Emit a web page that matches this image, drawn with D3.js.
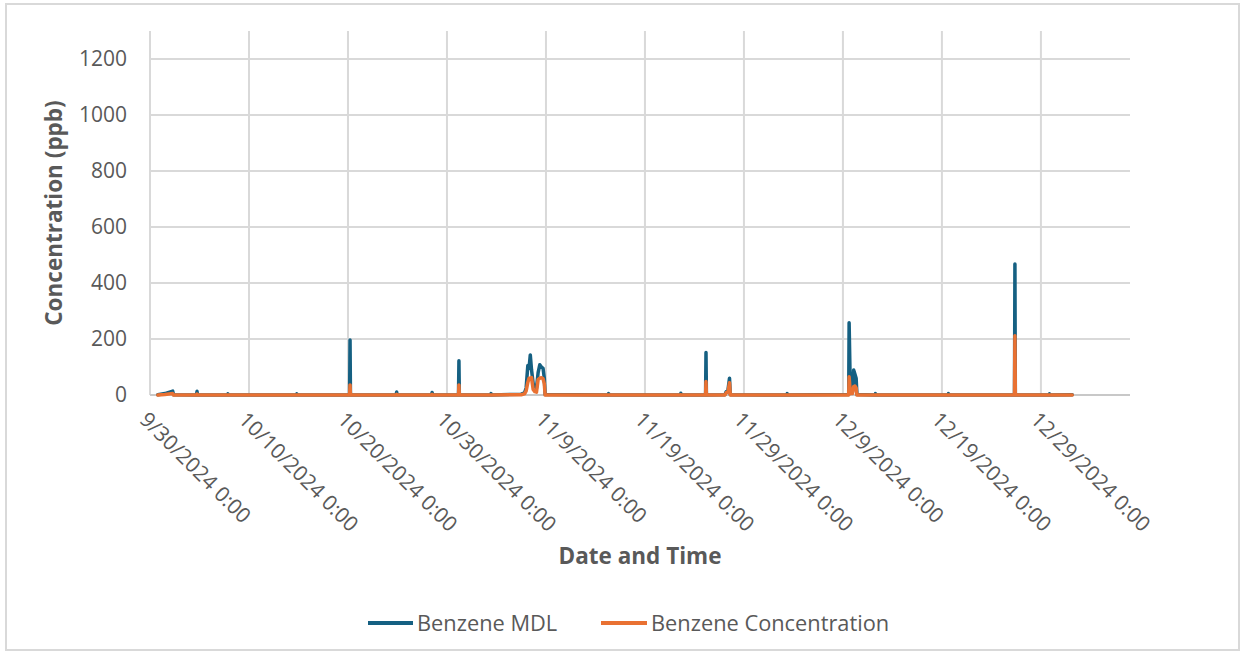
<!DOCTYPE html>
<html>
<head>
<meta charset="utf-8">
<script src="https://cdn.jsdelivr.net/npm/d3@7"></script>
<style>
  html, body { margin: 0; padding: 0; background: #ffffff; }
  svg { display: block; }
  text { font-family: "Open Sans", "Noto Sans", sans-serif; fill: #595959; }
</style>
</head>
<body>
<svg id="chart" width="1245" height="655"></svg>
<script>
// Benzene monitoring, hourly readings (ppb)
const times = [
  "2024-09-30 19:00", "2024-10-01 12:00", "2024-10-02 07:00", "2024-10-02 09:00",
  "2024-10-04 17:00", "2024-10-04 18:00", "2024-10-04 19:00",
  "2024-10-07 20:00", "2024-10-07 21:00", "2024-10-07 22:00",
  "2024-10-14 19:00", "2024-10-14 20:00", "2024-10-14 21:00",
  "2024-10-20 04:00", "2024-10-20 05:00", "2024-10-20 06:00",
  "2024-10-24 21:00", "2024-10-24 22:00", "2024-10-24 23:00",
  "2024-10-28 11:00", "2024-10-28 12:00", "2024-10-28 13:00",
  "2024-10-31 04:00", "2024-10-31 05:00", "2024-10-31 06:00",
  "2024-11-03 10:00", "2024-11-03 11:00", "2024-11-03 12:00",
  "2024-11-06 12:00", "2024-11-06 20:00", "2024-11-07 00:00", "2024-11-07 04:00",
  "2024-11-07 07:00", "2024-11-07 10:00", "2024-11-07 13:00", "2024-11-07 17:00",
  "2024-11-07 21:00", "2024-11-08 01:00", "2024-11-08 05:00", "2024-11-08 09:00",
  "2024-11-08 13:00", "2024-11-08 17:00", "2024-11-08 20:00", "2024-11-08 22:00",
  "2024-11-15 07:00", "2024-11-15 08:00", "2024-11-15 09:00",
  "2024-11-22 14:00", "2024-11-22 15:00", "2024-11-22 16:00",
  "2024-11-25 03:00", "2024-11-25 04:00", "2024-11-25 05:00",
  "2024-11-27 02:00", "2024-11-27 05:00", "2024-11-27 09:00", "2024-11-27 13:00", "2024-11-27 15:00",
  "2024-12-03 08:00", "2024-12-03 09:00", "2024-12-03 10:00",
  "2024-12-09 14:00", "2024-12-09 15:00", "2024-12-09 18:00", "2024-12-09 23:00",
  "2024-12-10 02:00", "2024-12-10 05:00", "2024-12-10 08:00", "2024-12-10 10:00",
  "2024-12-12 06:00", "2024-12-12 07:00", "2024-12-12 08:00",
  "2024-12-19 15:00", "2024-12-19 16:00", "2024-12-19 17:00",
  "2024-12-26 08:00", "2024-12-26 09:00", "2024-12-26 10:00",
  "2024-12-29 20:00", "2024-12-29 21:00", "2024-12-29 22:00",
  "2025-01-01 04:00"
];
const mdlValues = [
  1, 5, 14, 1,
  0, 13, 0,
  0, 4, 0,
  0, 4, 0,
  0, 196, 0,
  0, 11, 0,
  0, 9, 0,
  0, 122, 0,
  0, 5, 0,
  3, 8, 25, 105,
  95, 143, 90, 40,
  30, 25, 80, 108,
  100, 95, 60, 2,
  0, 5, 0,
  0, 6, 0,
  0, 152, 0,
  1, 12, 14, 60, 1,
  0, 5, 0,
  2, 258, 10, 10,
  89, 75, 60, 2,
  0, 5, 0,
  0, 5, 0,
  0, 468, 0,
  0, 4, 0,
  1
];
const concValues = [
  0, 2, 5, 0,
  0, 3, 0,
  0, 0, 0,
  0, 0, 0,
  0, 36, 0,
  0, 2, 0,
  0, 2, 0,
  0, 36, 0,
  0, 0, 0,
  1, 4, 15, 45,
  60, 60, 62, 20,
  12, 10, 55, 60,
  62, 58, 40, 0,
  0, 0, 0,
  0, 1, 0,
  0, 48, 0,
  0, 8, 10, 44, 0,
  0, 0, 0,
  0, 65, 5, 5,
  30, 32, 25, 0,
  0, 0, 0,
  0, 0, 0,
  0, 212, 0,
  0, 0, 0,
  0
];

const xTickDates = ["2024-09-30", "2024-10-10", "2024-10-20", "2024-10-30", "2024-11-09",
                    "2024-11-19", "2024-11-29", "2024-12-09", "2024-12-19", "2024-12-29"];
const xTickLabels = ["9/30/2024 0:00", "10/10/2024 0:00", "10/20/2024 0:00", "10/30/2024 0:00",
                     "11/9/2024 0:00", "11/19/2024 0:00", "11/29/2024 0:00", "12/9/2024 0:00",
                     "12/19/2024 0:00", "12/29/2024 0:00"];
const yTicks = [0, 200, 400, 600, 800, 1000, 1200];
const seriesNames = ["Benzene MDL", "Benzene Concentration"];
const seriesColors = ["#156082", "#E97132"];

const parseTime = d3.timeParse("%Y-%m-%d %H:%M");
const parseDay = d3.timeParse("%Y-%m-%d");

const svg = d3.select("#chart");

// outer frame
svg.append("rect")
  .attr("x", 6).attr("y", 4).attr("width", 1233).attr("height", 646)
  .attr("fill", "none").attr("stroke", "#d9d9d9").attr("stroke-width", 2);

const plot = { left: 150, right: 1130, top: 31, bottom: 395 };

const x = d3.scaleTime()
  .domain([parseDay("2024-09-30"), parseDay("2025-01-07")])
  .range([plot.left, plot.right]);
const y = d3.scaleLinear()
  .domain([0, 1300])
  .range([plot.bottom, plot.top]);

const tickDates = xTickDates.map(parseDay);

// gridlines
const grid = svg.append("g").attr("stroke", "#d9d9d9").attr("stroke-width", 2);
grid.selectAll("line.h").data(yTicks.filter(v => v > 0)).join("line")
  .attr("class", "h")
  .attr("x1", plot.left).attr("x2", plot.right)
  .attr("y1", d => y(d)).attr("y2", d => y(d));
grid.selectAll("line.v").data(tickDates).join("line")
  .attr("class", "v")
  .attr("x1", d => x(d)).attr("x2", d => x(d))
  .attr("y1", plot.top).attr("y2", plot.bottom);

// x axis line
svg.append("line")
  .attr("x1", plot.left).attr("x2", plot.right)
  .attr("y1", plot.bottom).attr("y2", plot.bottom)
  .attr("stroke", "#c8c8c8").attr("stroke-width", 2);

// y axis labels
const yAxis = svg.append("g")
  .attr("transform", `translate(${plot.left},0)`)
  .call(d3.axisLeft(y).tickValues(yTicks).tickSize(0).tickPadding(23).tickFormat(d3.format("d")));
yAxis.select(".domain").remove();
yAxis.selectAll("text")
  .style("font-family", '"Open Sans", sans-serif')
  .style("font-size", "21px")
  .attr("fill", "#595959");

// x axis labels, rotated
const xAxis = svg.append("g")
  .attr("transform", `translate(0,${plot.bottom})`)
  .call(d3.axisBottom(x).tickValues(tickDates).tickSize(0)
    .tickFormat((d, i) => xTickLabels[i]));
xAxis.select(".domain").remove();
xAxis.selectAll("text")
  .attr("x", 0).attr("y", 0).attr("dy", 0)
  .attr("transform", "translate(-12,26) rotate(45)")
  .style("text-anchor", "start")
  .style("font-family", '"Open Sans", sans-serif')
  .style("font-size", "21px")
  .attr("fill", "#595959");

// axis titles
svg.append("text")
  .attr("x", (plot.left + plot.right) / 2).attr("y", 564)
  .attr("text-anchor", "middle")
  .style("font-size", "22.5px").style("font-weight", "bold")
  .text("Date and Time");
svg.append("text")
  .attr("transform", `translate(62,${(plot.top + plot.bottom) / 2}) rotate(-90)`)
  .attr("text-anchor", "middle")
  .style("font-size", "22.5px").style("font-weight", "bold")
  .text("Concentration (ppb)");

// series lines
const parsed = times.map(parseTime);
const line = d3.line()
  .x(d => x(d[0]))
  .y(d => y(d[1]));
[mdlValues, concValues].forEach((vals, k) => {
  svg.append("path")
    .datum(parsed.map((t, i) => [t, vals[i]]))
    .attr("fill", "none")
    .attr("stroke", seriesColors[k])
    .attr("stroke-width", 3.5)
    .attr("stroke-linejoin", "round")
    .attr("stroke-linecap", "round")
    .attr("d", line);
});

// legend
const legendItems = [
  { x1: 368, x2: 413, tx: 417 },
  { x1: 601, x2: 647, tx: 651 }
];
const legend = svg.append("g");
legendItems.forEach((it, k) => {
  legend.append("line")
    .attr("x1", it.x1).attr("x2", it.x2).attr("y1", 623).attr("y2", 623)
    .attr("stroke", seriesColors[k]).attr("stroke-width", 4);
  legend.append("text")
    .attr("x", it.tx).attr("y", 631)
    .style("font-size", "21.8px")
    .text(seriesNames[k]);
});
</script>
</body>
</html>
